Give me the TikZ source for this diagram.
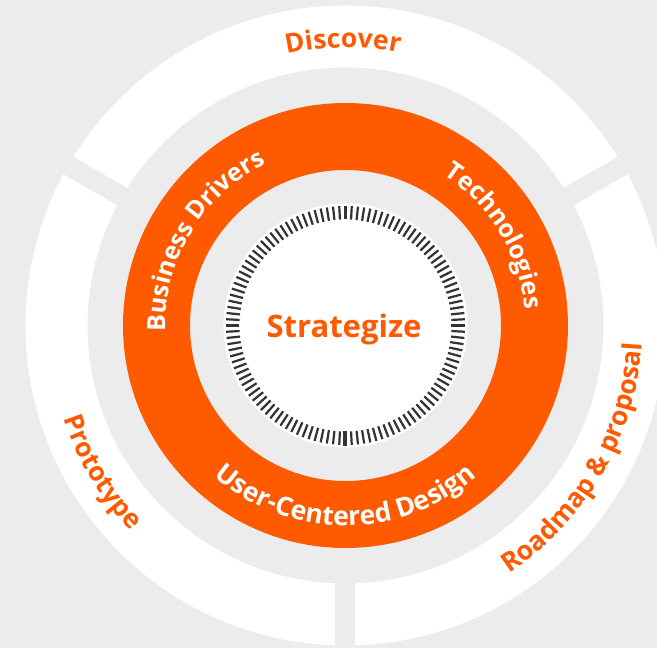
\documentclass[tikz,border=0pt]{standalone}
\usepackage{fontspec}
\setmainfont{Open Sans}
\usetikzlibrary{decorations.text}
\definecolor{bg}{RGB}{236,236,236}
\definecolor{org}{RGB}{255,90,0}
\definecolor{tk}{RGB}{51,51,51}
\newcommand{\outerfmt}{\fontsize{26.5}{30}\selectfont\bfseries\color{org}}
\newcommand{\innerfmt}{\fontsize{25}{30}\selectfont\bfseries\color{white}}
\newcommand{\bottomfmt}{\fontsize{26.5}{30}\selectfont\bfseries\color{white}}
\begin{document}
\begin{tikzpicture}[
  tickmark/.style={draw=tk, line width=2.2pt},
  gapline/.style={draw=bg, line width=20pt},
  ringlabel/.style={decorate, decoration={text along path, text align=center, text={#1}}}
]
\fill[bg] (-345.5pt,-322.5pt) rectangle (311.5pt,325.5pt);
\useasboundingbox (-345.5pt,-322.5pt) rectangle (311.5pt,325.5pt);
% outer white ring with three gaps
\fill[white,even odd rule] (0,0) circle (320pt) (0,0) circle (258pt);
\foreach \a in {30,150,270} \draw[gapline] (0,0) -- (\a:340pt);
% orange ring
\fill[org,even odd rule] (0,0) circle (222.5pt) (0,0) circle (155.5pt);
% white disk
\fill[white] (0,0) circle (122pt);
% ticks
\foreach \a in {0,3,...,357} \draw[tickmark] (\a:106pt) -- (\a:119.5pt);
\draw[draw=tk, line width=4pt] (270:106pt) -- (270:121pt);
% outer labels
\path[ringlabel={|\outerfmt|Discover}] (120.5:278pt) arc[start angle=120.5, end angle=60.5, radius=278pt];
\path[ringlabel={|\outerfmt|Prototype}] (171:297pt) arc[start angle=171, end angle=251, radius=297pt];
\path[ringlabel={|\outerfmt|Roadmap {\&} proposal}] (-75:297pt) arc[start angle=-75, end angle=15, radius=297pt];
% inner labels
\path[ringlabel={|\innerfmt|Business Drivers}] (199:180pt) arc[start angle=199, end angle=99, radius=180pt];
\path[ringlabel={|\innerfmt|Technologies}] (81:180pt) arc[start angle=81, end angle=-19, radius=180pt];
\path[ringlabel={|\bottomfmt|User-Centered Design}] (195:200pt) arc[start angle=195, end angle=345, radius=200pt];
% centre
\node[font=\fontsize{31}{37}\selectfont\bfseries, text=org] (strat) at (-1.5pt,-4pt) {Strategize};
\end{tikzpicture}
\end{document}
